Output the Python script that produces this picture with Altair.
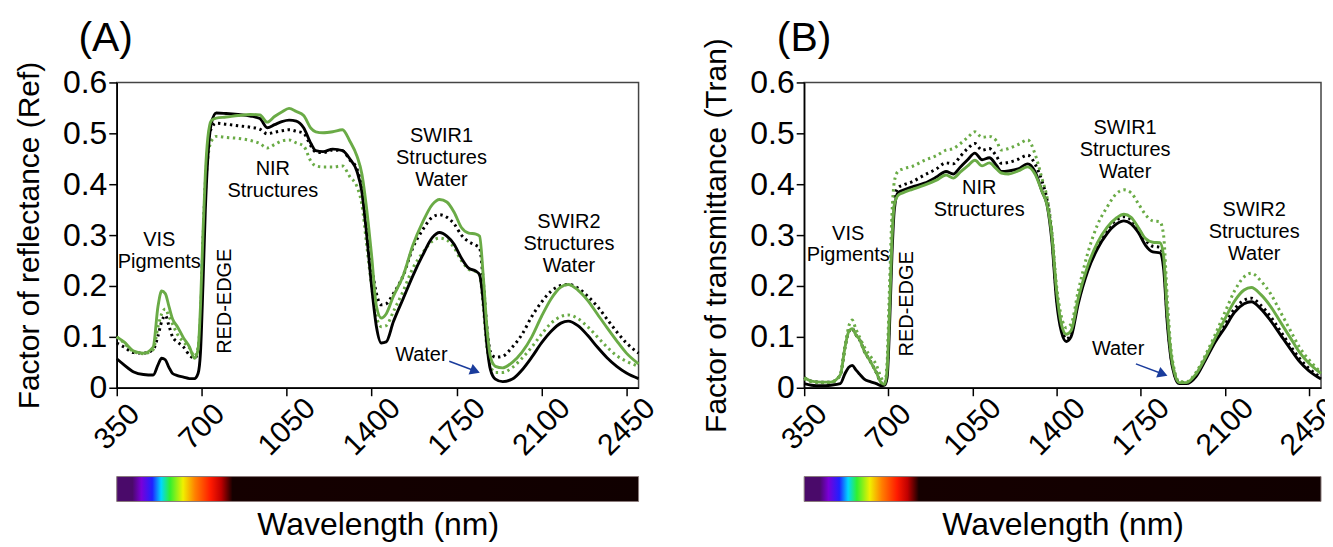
import altair as alt
import pandas as pd

# ---------------- data ----------------
WL = [350, 380, 420, 460, 500, 520, 535, 550, 565, 580, 600, 625, 650, 670, 685, 695,
      705, 715, 725, 740, 760, 800, 850, 900, 940, 970, 1000, 1030, 1060, 1090, 1120,
      1150, 1170, 1200, 1240, 1280, 1310, 1340, 1360, 1380, 1400, 1420, 1440, 1460,
      1490, 1530, 1570, 1610, 1650, 1680, 1710, 1740, 1770, 1800, 1830, 1845, 1860,
      1875, 1890, 1910, 1940, 1980, 2020, 2060, 2100, 2140, 2180, 2210, 2250, 2290,
      2330, 2370, 2410, 2450, 2500]

# (A) reflectance
REF_BLACK_SOLID = [0.057, 0.045, 0.031, 0.026, 0.025, 0.045, 0.058, 0.055, 0.040, 0.028, 0.024, 0.021, 0.018, 0.018, 0.028, 0.070,
                   0.200, 0.350, 0.450, 0.520, 0.540, 0.539, 0.537, 0.534, 0.529, 0.511, 0.517, 0.523, 0.526, 0.524, 0.511,
                   0.480, 0.466, 0.464, 0.469, 0.466, 0.450, 0.425, 0.385, 0.300, 0.200, 0.120, 0.088, 0.090,
                   0.130, 0.175, 0.220, 0.260, 0.295, 0.305, 0.298, 0.282, 0.255, 0.235, 0.229, 0.222, 0.170,
                   0.085, 0.035, 0.017, 0.012, 0.017, 0.035, 0.060, 0.088, 0.111, 0.127, 0.131, 0.122, 0.103,
                   0.080, 0.059, 0.042, 0.029, 0.018]
REF_BLACK_DOTTED = [0.088, 0.080, 0.069, 0.068, 0.075, 0.102, 0.130, 0.142, 0.122, 0.100, 0.090, 0.080, 0.064, 0.058, 0.070, 0.130,
                    0.280, 0.400, 0.470, 0.510, 0.520, 0.518, 0.515, 0.512, 0.508, 0.499, 0.502, 0.505, 0.507, 0.504, 0.500,
                    0.475, 0.463, 0.462, 0.467, 0.466, 0.448, 0.430, 0.390, 0.310, 0.240, 0.185, 0.163, 0.165,
                    0.185, 0.220, 0.275, 0.310, 0.335, 0.340, 0.335, 0.322, 0.300, 0.287, 0.280, 0.275, 0.210,
                    0.120, 0.070, 0.060, 0.062, 0.080, 0.105, 0.140, 0.168, 0.190, 0.201, 0.203, 0.196, 0.180,
                    0.160, 0.135, 0.110, 0.088, 0.068]
REF_GREEN_SOLID = [0.100, 0.090, 0.072, 0.068, 0.080, 0.160, 0.190, 0.185, 0.160, 0.135, 0.120, 0.098, 0.080, 0.058, 0.075, 0.160,
                   0.300, 0.420, 0.490, 0.525, 0.530, 0.532, 0.535, 0.537, 0.536, 0.522, 0.533, 0.542, 0.549, 0.543, 0.535,
                   0.510, 0.503, 0.501, 0.503, 0.507, 0.485, 0.455, 0.420, 0.350, 0.260, 0.160, 0.137, 0.145,
                   0.180, 0.220, 0.280, 0.325, 0.360, 0.370, 0.365, 0.345, 0.315, 0.304, 0.302, 0.298, 0.220,
                   0.120, 0.060, 0.042, 0.039, 0.050, 0.070, 0.100, 0.140, 0.175, 0.198, 0.203, 0.192, 0.172,
                   0.145, 0.118, 0.092, 0.068, 0.047]
REF_GREEN_DOTTED = [0.100, 0.088, 0.071, 0.067, 0.075, 0.120, 0.145, 0.155, 0.140, 0.125, 0.105, 0.090, 0.078, 0.062, 0.080, 0.140,
                    0.270, 0.380, 0.450, 0.485, 0.494, 0.492, 0.490, 0.486, 0.480, 0.471, 0.478, 0.485, 0.487, 0.481, 0.475,
                    0.445, 0.436, 0.434, 0.434, 0.436, 0.415, 0.395, 0.360, 0.280, 0.200, 0.140, 0.120, 0.122,
                    0.150, 0.190, 0.235, 0.265, 0.288, 0.294, 0.290, 0.275, 0.250, 0.233, 0.228, 0.222, 0.160,
                    0.080, 0.042, 0.030, 0.030, 0.040, 0.058, 0.080, 0.105, 0.127, 0.140, 0.143, 0.136, 0.120,
                    0.100, 0.080, 0.063, 0.052, 0.042]

# (B) transmittance
TRA_BLACK_SOLID = [0.008, 0.005, 0.004, 0.005, 0.008, 0.028, 0.040, 0.044, 0.035, 0.027, 0.017, 0.012, 0.008, 0.004, 0.005, 0.020,
                   0.120, 0.260, 0.350, 0.383, 0.388, 0.395, 0.402, 0.414, 0.425, 0.420, 0.434, 0.448, 0.461, 0.448, 0.452,
                   0.437, 0.425, 0.426, 0.430, 0.440, 0.425, 0.385, 0.360, 0.290, 0.170, 0.110, 0.091, 0.100,
                   0.165, 0.230, 0.273, 0.303, 0.322, 0.328, 0.322, 0.305, 0.280, 0.267, 0.265, 0.235, 0.130,
                   0.060, 0.025, 0.008, 0.008, 0.022, 0.055, 0.090, 0.118, 0.148, 0.165, 0.169, 0.155, 0.132,
                   0.105, 0.078, 0.052, 0.033, 0.017]
TRA_BLACK_DOTTED = [0.020, 0.013, 0.011, 0.011, 0.025, 0.080, 0.110, 0.116, 0.104, 0.095, 0.072, 0.052, 0.030, 0.010, 0.007, 0.035,
                    0.160, 0.300, 0.370, 0.393, 0.398, 0.405, 0.418, 0.430, 0.442, 0.440, 0.455, 0.470, 0.480, 0.467, 0.470,
                    0.455, 0.441, 0.443, 0.449, 0.457, 0.440, 0.405, 0.370, 0.300, 0.180, 0.120, 0.096, 0.105,
                    0.170, 0.235, 0.280, 0.310, 0.330, 0.336, 0.330, 0.313, 0.290, 0.278, 0.276, 0.250, 0.140,
                    0.065, 0.028, 0.010, 0.010, 0.025, 0.060, 0.095, 0.125, 0.155, 0.172, 0.176, 0.162, 0.140,
                    0.112, 0.084, 0.058, 0.038, 0.020]
TRA_GREEN_SOLID = [0.020, 0.013, 0.011, 0.011, 0.025, 0.080, 0.110, 0.116, 0.104, 0.095, 0.072, 0.052, 0.030, 0.010, 0.007, 0.035,
                   0.150, 0.290, 0.360, 0.378, 0.383, 0.390, 0.398, 0.408, 0.418, 0.412, 0.424, 0.436, 0.447, 0.436, 0.442,
                   0.430, 0.422, 0.420, 0.426, 0.434, 0.420, 0.385, 0.360, 0.300, 0.190, 0.125, 0.105, 0.112,
                   0.175, 0.240, 0.285, 0.315, 0.334, 0.341, 0.335, 0.315, 0.293, 0.286, 0.285, 0.260, 0.150,
                   0.070, 0.030, 0.010, 0.010, 0.027, 0.060, 0.098, 0.135, 0.170, 0.192, 0.197, 0.183, 0.160,
                   0.130, 0.100, 0.070, 0.048, 0.028]
TRA_GREEN_DOTTED = [0.018, 0.012, 0.010, 0.010, 0.025, 0.080, 0.120, 0.133, 0.115, 0.100, 0.080, 0.062, 0.045, 0.020, 0.010, 0.050,
                    0.200, 0.340, 0.405, 0.425, 0.430, 0.435, 0.447, 0.456, 0.467, 0.470, 0.480, 0.492, 0.503, 0.492, 0.494,
                    0.485, 0.467, 0.470, 0.478, 0.487, 0.460, 0.410, 0.375, 0.310, 0.200, 0.140, 0.118, 0.125,
                    0.190, 0.265, 0.320, 0.355, 0.382, 0.389, 0.383, 0.362, 0.340, 0.328, 0.326, 0.300, 0.180,
                    0.080, 0.035, 0.012, 0.012, 0.030, 0.065, 0.105, 0.148, 0.190, 0.218, 0.225, 0.210, 0.185,
                    0.150, 0.115, 0.080, 0.055, 0.030]

X_TICKS = [350, 700, 1050, 1400, 1750, 2100, 2450]
Y_TICKS = [0, 0.1, 0.2, 0.3, 0.4, 0.5, 0.6]

# annotation labels (wavelength, value of first line, text)
REF_NOTES_WL = [525, 993, 1688, 2213]
REF_NOTES_V = [0.29, 0.429, 0.495, 0.325]
TRA_NOTES_WL = [533, 1078, 1685, 2222]
TRA_NOTES_V = [0.303, 0.392, 0.51, 0.349]
NOTES_TEXT = ["VIS\nPigments", "NIR\nStructures", "SWIR1\nStructures\nWater", "SWIR2\nStructures\nWater"]
REF_REDEDGE = (796, 0.17)
TRA_REDEDGE = (779, 0.165)
REF_WATER = (1605, 0.064)
TRA_WATER = (1656, 0.076)
REF_ARROW = (1720, 0.052, 1827, 0.033)
TRA_ARROW = (1730, 0.047, 1842, 0.027)
REF_LETTER = (192, 0.686, "(A)")
TRA_LETTER = (236, 0.686, "(B)")

# visible spectrum strip
SPEC_OFFSETS = [0.0, 0.03, 0.047, 0.068, 0.085, 0.102, 0.127, 0.15, 0.18, 0.2, 0.222, 1.0]
SPEC_COLORS = ["#4a0a6a", "#4a0a6a", "#7a00d8", "#2020ff", "#00d8ff", "#30f030", "#f0f000",
               "#ff8000", "#ff1a00", "#c00000", "#150000", "#100000"]

GREEN = "#6aab46"
BLUE = "#1a3c9c"
FONT = "Liberation Sans"
H = 306


def panel(width, ytitle, bs, bd, gs, gd, notes_wl, notes_v, rededge, water, arrow, letter):
    df = pd.DataFrame({"wl": WL, "bs": bs, "bd": bd, "gs": gs, "gd": gd})
    xs = alt.Scale(domain=[350, 2500], nice=False, zero=False)
    ys = alt.Scale(domain=[0, 0.6], nice=False)
    xenc = alt.X("wl:Q", scale=xs,
                 axis=alt.Axis(values=X_TICKS, title=None, labelAngle=-45, labelAlign="center",
                               labelBaseline="middle", format="d", grid=False, labelPadding=31,
                               labelFontSize=30))
    yaxis = alt.Axis(values=Y_TICKS, title=ytitle, format=".1~f", grid=False, titlePadding=18,
                     labelPadding=2, labelFontSize=32)

    def line(col, color, dotted):
        kw = dict(color=color, strokeWidth=2.9, interpolate="monotone")
        if dotted:
            kw["strokeDash"] = [2.4, 3.6]
            kw["strokeWidth"] = 3
        return alt.Chart(df).mark_line(**kw).encode(
            x=xenc, y=alt.Y(f"{col}:Q", scale=ys, axis=yaxis))

    notes = pd.DataFrame({"wl": notes_wl, "v": notes_v, "t": NOTES_TEXT})
    txt = alt.Chart(notes).mark_text(font=FONT, fontSize=20, lineBreak="\n", lineHeight=22,
                                     align="center", baseline="middle", color="black").encode(
        x=alt.X("wl:Q", scale=xs), y=alt.Y("v:Q", scale=ys), text="t:N")
    red = pd.DataFrame({"wl": [rededge[0]], "v": [rededge[1]], "t": ["RED-EDGE"]})
    redt = alt.Chart(red).mark_text(font=FONT, fontSize=20, angle=270, align="center",
                                    baseline="middle", color="black").encode(
        x=alt.X("wl:Q", scale=xs), y=alt.Y("v:Q", scale=ys), text="t:N")
    wat = pd.DataFrame({"wl": [water[0]], "v": [water[1]], "t": ["Water"]})
    watt = alt.Chart(wat).mark_text(font=FONT, fontSize=20, align="center",
                                    baseline="middle", color="black").encode(
        x=alt.X("wl:Q", scale=xs), y=alt.Y("v:Q", scale=ys), text="t:N")
    lab = pd.DataFrame({"wl": [letter[0]], "v": [letter[1]], "t": [letter[2]]})
    labt = alt.Chart(lab).mark_text(font=FONT, fontSize=41, align="left",
                                    baseline="middle", color="black").encode(
        x=alt.X("wl:Q", scale=xs), y=alt.Y("v:Q", scale=ys), text="t:N")
    arr = pd.DataFrame({"wl": [arrow[0]], "v": [arrow[1]], "wl2": [arrow[2]], "v2": [arrow[3]]})
    arr_line = alt.Chart(arr).mark_rule(color=BLUE, strokeWidth=1.5).encode(
        x=alt.X("wl:Q", scale=xs), y=alt.Y("v:Q", scale=ys), x2="wl2:Q", y2="v2:Q")
    arr_head = alt.Chart(arr).mark_point(shape="triangle-right", filled=True, size=130,
                                         angle=21, color=BLUE, opacity=1).encode(
        x=alt.X("wl2:Q", scale=xs), y=alt.Y("v2:Q", scale=ys))

    top = alt.layer(
        line("bd", "black", True),
        line("gd", GREEN, True),
        line("bs", "black", False),
        line("gs", GREEN, False),
        txt, redt, watt, labt, arr_line, arr_head,
    ).properties(width=width, height=H)

    sp = pd.DataFrame({"a": [350], "b": [2500]})
    grad = alt.Gradient(gradient="linear", x1=0, x2=1, y1=0, y2=0,
                        stops=[alt.GradientStop(offset=o, color=c)
                               for o, c in zip(SPEC_OFFSETS, SPEC_COLORS)])
    bar = alt.Chart(sp).mark_rect(color=grad, stroke="#8a7a7a", strokeWidth=1).encode(
        x=alt.X("a:Q", scale=xs,
                axis=alt.Axis(title="Wavelength (nm)", labels=False, ticks=False, domain=False,
                              titlePadding=8, titleFontSize=32)),
        x2="b:Q",
    ).properties(width=width, height=25, view=alt.ViewBackground(stroke="transparent"))

    return alt.vconcat(top, bar, spacing=13)


pa = panel(523, "Factor of reflectance (Ref)", REF_BLACK_SOLID, REF_BLACK_DOTTED,
           REF_GREEN_SOLID, REF_GREEN_DOTTED, REF_NOTES_WL, REF_NOTES_V,
           REF_REDEDGE, REF_WATER, REF_ARROW, REF_LETTER)
pb = panel(518, "Factor of transmittance (Tran)", TRA_BLACK_SOLID, TRA_BLACK_DOTTED,
           TRA_GREEN_SOLID, TRA_GREEN_DOTTED, TRA_NOTES_WL, TRA_NOTES_V,
           TRA_REDEDGE, TRA_WATER, TRA_ARROW, TRA_LETTER)

chart = alt.hconcat(pa, pb, spacing=39).properties(
    padding={"left": 5, "top": 8, "right": -19, "bottom": 0}
).configure_axis(
    labelFont=FONT, titleFont=FONT, titleFontSize=30,
    labelColor="black", titleColor="black", domainColor="black", tickColor="black",
    domainWidth=1.5, tickWidth=1.5, tickSize=8, titleFontWeight="normal", grid=False,
).configure_view(stroke="#444", strokeWidth=1.5)

chart.save("out.html", embed_options={"renderer": "svg", "actions": False})
